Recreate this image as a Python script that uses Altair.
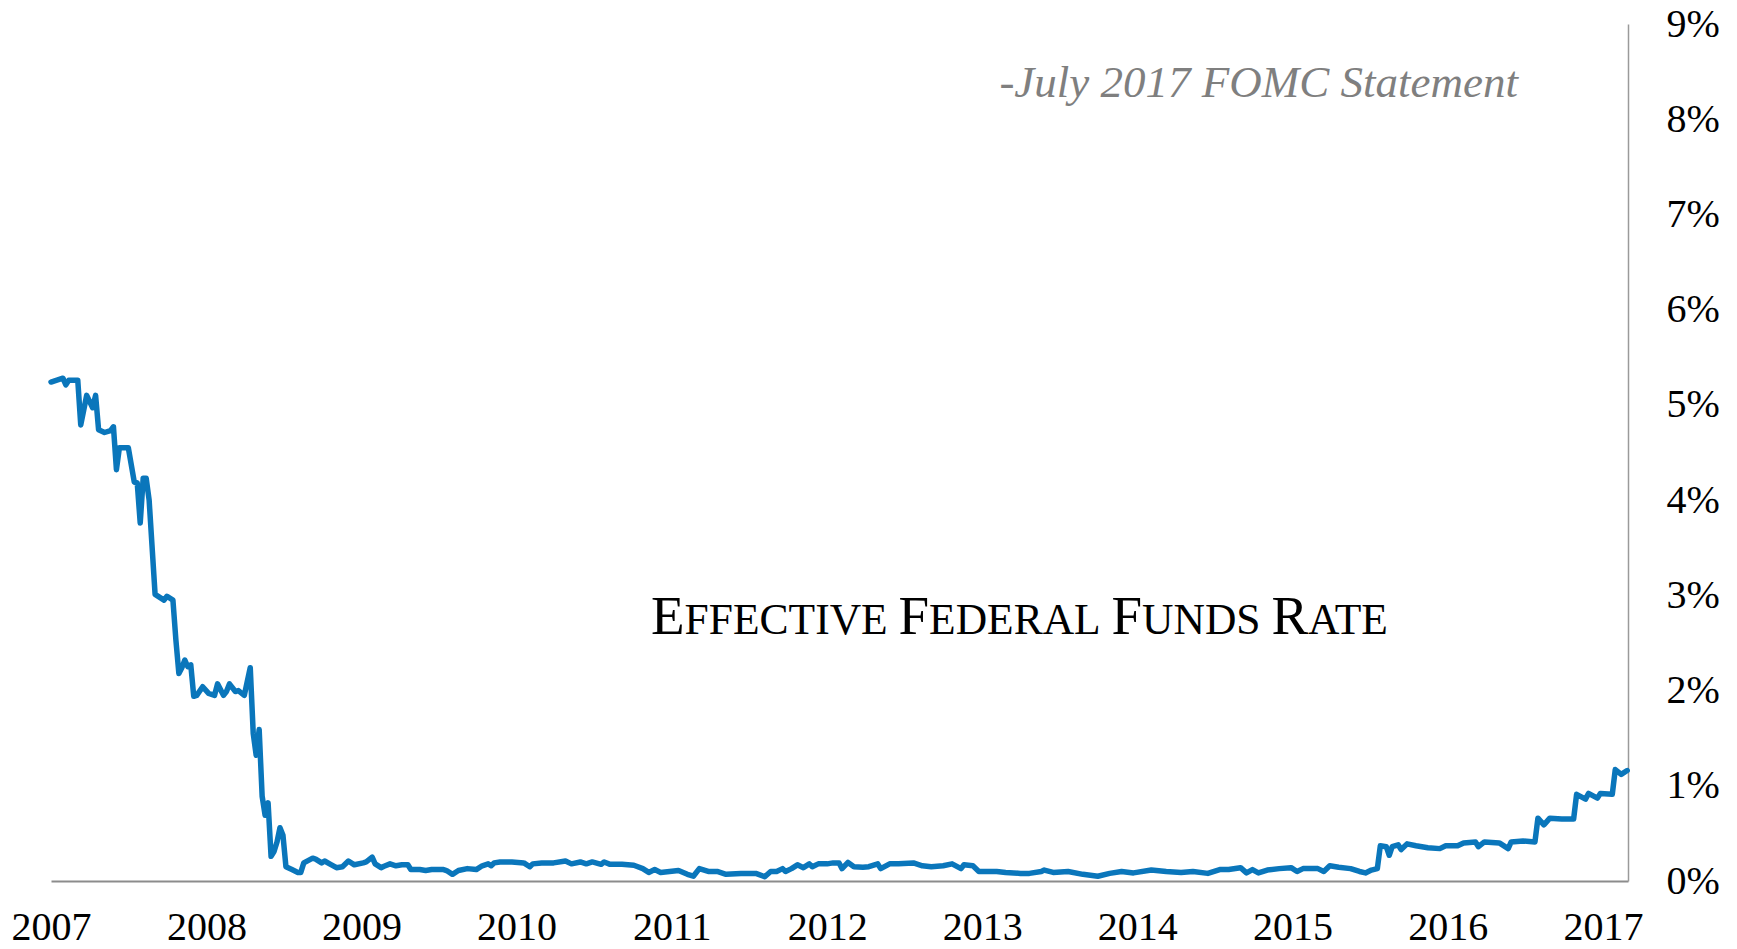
import altair as alt
import pandas as pd

# ---------------- data (weekly effective federal funds rate) ----------------
START = "2007-05-16"          # first weekly observation
END = "2017-07-14"            # right end of the time axis

# week number since START
week = [
    0, 2, 4, 5, 6, 9, 10, 12, 14, 15, 16, 18, 20, 21, 22, 23, 26, 28, 29, 30,
    31, 32, 33, 35, 38, 39, 41, 42, 43, 44, 45, 46, 47, 48, 49, 51, 53, 55, 56, 58,
    59, 60, 62, 63, 65, 67, 68, 69, 70, 71, 72, 73, 74, 75, 76, 77, 78, 79, 81, 83,
    84, 85, 88, 89, 91, 92, 94, 96, 98, 100, 102, 105, 106, 108, 109, 111, 112, 114, 116, 118,
    120, 121, 124, 126, 128, 132, 133, 135, 137, 140, 143, 145, 147, 148, 149, 151, 155, 159, 161, 162,
    165, 169, 173, 175, 178, 180, 182, 185, 186, 188, 192, 196, 199, 201, 203, 205, 208, 211, 214, 216,
    218, 221, 224, 227, 232, 237, 240, 242, 244, 246, 247, 249, 251, 253, 255, 256, 258, 261, 263, 265,
    266, 268, 270, 273, 275, 278, 279, 282, 285, 290, 293, 296, 300, 303, 306, 307, 310, 312, 315, 318,
    321, 326, 329, 333, 334, 337, 342, 347, 352, 356, 360, 364, 370, 375, 380, 384, 389, 393, 396, 400,
    402, 404, 406, 409, 413, 417, 419, 421, 426, 428, 430, 433, 437, 440, 442, 444, 446, 447, 449, 450,
    451, 453, 454, 456, 459, 463, 467, 469, 473, 475, 479, 480, 482, 487, 490, 491, 495, 499, 500, 502,
    504, 508, 512, 513, 516, 517, 520, 521, 525, 526, 528, 530,
]

# effective rate, percent
rate = [
    5.24, 5.26, 5.28, 5.21, 5.26, 5.26, 4.79, 5.10, 4.97, 5.10, 4.74, 4.71, 4.73, 4.77, 4.32, 4.55, 4.55, 4.19, 4.18, 3.76,
    4.23, 4.23, 4.00, 3.01, 2.95, 2.99, 2.95, 2.53, 2.18, 2.24, 2.32, 2.25, 2.27, 1.94, 1.95, 2.04, 1.97, 1.95, 2.07, 1.95,
    1.99, 2.07, 1.99, 2.00, 1.95, 2.24, 1.55, 1.32, 1.59, 0.89, 0.69, 0.82, 0.26, 0.31, 0.41, 0.56, 0.48, 0.15, 0.12, 0.09,
    0.09, 0.19, 0.24, 0.23, 0.19, 0.21, 0.175, 0.14, 0.15, 0.21, 0.17, 0.19, 0.20, 0.25, 0.18, 0.14, 0.155, 0.18, 0.16, 0.17,
    0.17, 0.12, 0.12, 0.11, 0.12, 0.12, 0.11, 0.07, 0.11, 0.13, 0.12, 0.16, 0.18, 0.16, 0.19, 0.20, 0.20, 0.19, 0.15, 0.18,
    0.19, 0.19, 0.21, 0.18, 0.20, 0.18, 0.20, 0.175, 0.20, 0.175, 0.175, 0.165, 0.13, 0.09, 0.12, 0.09, 0.10, 0.11, 0.07, 0.05,
    0.13, 0.10, 0.10, 0.07, 0.08, 0.08, 0.045, 0.10, 0.10, 0.13, 0.10, 0.13, 0.17, 0.14, 0.18, 0.15, 0.18, 0.18, 0.19, 0.19,
    0.13, 0.195, 0.15, 0.145, 0.15, 0.18, 0.13, 0.18, 0.18, 0.19, 0.16, 0.15, 0.16, 0.18, 0.13, 0.17, 0.16, 0.10, 0.10, 0.10,
    0.09, 0.08, 0.08, 0.10, 0.115, 0.09, 0.10, 0.07, 0.05, 0.08, 0.10, 0.085, 0.115, 0.10, 0.09, 0.10, 0.08, 0.12, 0.12, 0.14,
    0.085, 0.12, 0.085, 0.115, 0.13, 0.14, 0.10, 0.13, 0.13, 0.10, 0.16, 0.145, 0.13, 0.10, 0.085, 0.115, 0.13, 0.37, 0.36, 0.27,
    0.36, 0.38, 0.33, 0.39, 0.37, 0.35, 0.34, 0.37, 0.37, 0.40, 0.41, 0.36, 0.41, 0.40, 0.34, 0.41, 0.42, 0.41, 0.66, 0.59,
    0.66, 0.65, 0.65, 0.91, 0.86, 0.92, 0.87, 0.92, 0.91, 1.17, 1.12, 1.16,
]
assert len(week) == len(rate)

tick_years = [2007, 2008, 2009, 2010, 2011, 2012, 2013, 2014, 2015, 2016, 2017]
y_ticks = [0, 1, 2, 3, 4, 5, 6, 7, 8, 9]

subtitle = "-July 2017 FOMC Statement"
# small-caps title split into (text, is_capital)
title_parts = [("E", True), ("FFECTIVE ", False), ("F", True), ("EDERAL ", False),
               ("F", True), ("UNDS ", False), ("R", True), ("ATE", False)]

# ---------------- layout / style ----------------
W, H = 1577, 857
FONT = "Liberation Serif"
LINE_COLOR = "#0a76bb"
BIG, SMALL = 55, 43.5
# Liberation Serif (Times metrics) advance widths in em
CHAR_W = {"E": 0.611, "F": 0.556, "C": 0.667, "T": 0.611, "I": 0.333, "V": 0.722, "D": 0.722,
          "R": 0.667, "A": 0.722, "L": 0.611, "U": 0.722, "N": 0.722, "S": 0.556, " ": 0.25}

df = pd.DataFrame({
    "date": pd.Timestamp(START) + pd.to_timedelta([7 * w for w in week], unit="D"),
    "rate": rate,
})

s = pd.Timestamp(START)
e = pd.Timestamp(END)
x_domain = [alt.DateTime(year=s.year, month=s.month, date=s.day),
            alt.DateTime(year=e.year, month=e.month, date=e.day)]
x_ticks = [alt.DateTime(year=y, month=s.month, date=s.day) for y in tick_years]

line = alt.Chart(df).mark_line(
    color=LINE_COLOR, strokeWidth=5.5, strokeJoin="round", strokeCap="round"
).encode(
    x=alt.X("date:T", scale=alt.Scale(domain=x_domain),
            axis=alt.Axis(values=x_ticks, format="%Y", title=None, grid=False, ticks=False,
                          tickSize=0, labelFlush=False, labelOverlap=False,
                          labelFont=FONT, labelFontSize=40, labelColor="black",
                          labelPadding=26, domainColor="#8c8c8c", domainWidth=2)),
    y=alt.Y("rate:Q", scale=alt.Scale(domain=[0, 9], nice=False, zero=True),
            axis=alt.Axis(orient="right", values=y_ticks, labelExpr="datum.value + '%'",
                          title=None, grid=False, ticks=False, tickSize=0, labelOverlap=False,
                          labelFont=FONT, labelFontSize=40, labelColor="black",
                          labelPadding=38, domainColor="#9a9a9a", domainWidth=1.5)),
)

layers = [line]

sub = alt.Chart(pd.DataFrame({"t": [subtitle]})).mark_text(
    align="right", baseline="alphabetic", font=FONT, fontStyle="italic",
    fontSize=45, color="#7f7f7f"
).encode(x=alt.value(1467), y=alt.value(73), text="t:N")
layers.append(sub)

cursor = 600.0
for text, cap in title_parts:
    size = BIG if cap else SMALL
    layers.append(
        alt.Chart(pd.DataFrame({"t": [text.strip()]})).mark_text(
            align="left", baseline="alphabetic", font=FONT, fontSize=size, color="black"
        ).encode(x=alt.value(round(cursor, 1)), y=alt.value(610), text="t:N")
    )
    cursor += sum(CHAR_W[c] for c in text) * size

chart = alt.layer(*layers).properties(
    width=W, height=H,
    padding={"left": 43, "top": 16, "right": 101, "bottom": 70},
    autosize=alt.AutoSizeParams(type="none"),
).configure_view(stroke=None)

chart.save("out.html", embed_options={"renderer": "svg", "actions": False})
